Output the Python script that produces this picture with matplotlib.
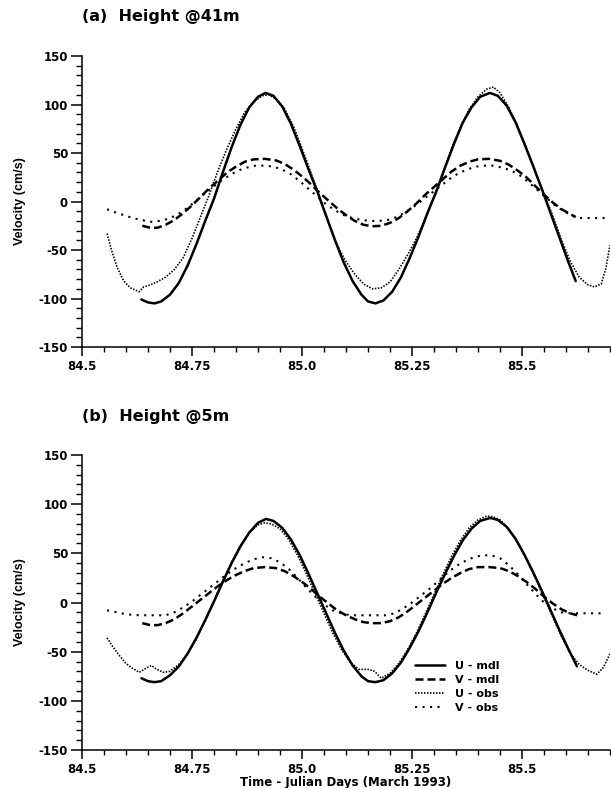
import matplotlib.pyplot as plt
from matplotlib.ticker import MultipleLocator, FixedLocator, FixedFormatter

plt.rcParams['font.family'] = 'DejaVu Sans'
plt.rcParams['font.weight'] = 'bold'

# ---- panel (a) : height 41m ----
a_umdl_t = [84.635, 84.650, 84.665, 84.680, 84.700, 84.720, 84.740, 84.760, 84.780, 84.800,
            84.820, 84.840, 84.860, 84.880, 84.900, 84.917, 84.935, 84.955, 84.975, 84.995,
            85.015, 85.035, 85.055, 85.075, 85.095, 85.115, 85.135, 85.150, 85.167, 85.185,
            85.205, 85.225, 85.245, 85.265, 85.285, 85.305, 85.325, 85.345, 85.365, 85.385,
            85.405, 85.427, 85.445, 85.465, 85.485, 85.505, 85.525, 85.545, 85.565, 85.585,
            85.605, 85.622]
a_umdl_v = [-101, -104, -105, -103, -96, -84, -66, -44, -20, 3,
            30, 56, 79, 97, 108, 112, 109, 98, 80, 57,
            33, 10, -15, -40, -63, -82, -96, -103, -105, -102,
            -93, -78, -58, -36, -12, 10, 35, 59, 81, 97,
            108, 112, 109, 99, 82, 60, 37, 13, -12, -37,
            -62, -82]

a_vmdl_t = [84.637, 84.655, 84.672, 84.690, 84.710, 84.730, 84.750, 84.770, 84.790, 84.810,
            84.830, 84.850, 84.870, 84.890, 84.915, 84.940, 84.960, 84.980, 85.000, 85.020,
            85.040, 85.060, 85.080, 85.100, 85.120, 85.140, 85.160, 85.180, 85.200, 85.220,
            85.240, 85.260, 85.280, 85.300, 85.320, 85.340, 85.360, 85.380, 85.400, 85.425,
            85.450, 85.470, 85.490, 85.510, 85.530, 85.550, 85.570, 85.590, 85.610, 85.622]
a_vmdl_v = [-25, -27, -27, -24, -19, -12, -4, 5, 14, 22,
            30, 36, 41, 43.5, 44, 42.5, 39, 33, 26, 18,
            9, 1, -7, -14, -20, -24, -25.5, -25, -22, -17,
            -10, -2, 7, 15, 23, 31, 37, 41, 43.5, 44,
            42, 38, 32, 25, 16, 7, -1, -8, -13, -16]

a_uobs_t = [84.557, 84.567, 84.580, 84.595, 84.610, 84.620, 84.630, 84.640, 84.655, 84.670,
            84.690, 84.710, 84.730, 84.750, 84.770, 84.790, 84.810, 84.830, 84.850, 84.870,
            84.890, 84.910, 84.925, 84.940, 84.960, 84.980, 85.000, 85.020, 85.040, 85.060,
            85.080, 85.100, 85.120, 85.140, 85.160, 85.180, 85.200, 85.220, 85.240, 85.260,
            85.280, 85.300, 85.320, 85.340, 85.360, 85.380, 85.400, 85.420, 85.435, 85.450,
            85.470, 85.490, 85.510, 85.530, 85.550, 85.570, 85.590, 85.610, 85.630, 85.650,
            85.665, 85.680, 85.690, 85.700]
a_uobs_v = [-33, -50, -68, -82, -89, -91, -93, -88, -86, -83,
            -78, -70, -58, -38, -15, 8, 33, 55, 75, 92,
            103, 109, 110, 106, 96, 78, 55, 30, 5, -20,
            -45, -62, -75, -85, -90, -89, -83, -70, -55, -38,
            -18, 5, 30, 55, 77, 95, 108, 116, 118, 112,
            97, 78, 55, 30, 8, -15, -40, -62, -78, -86,
            -88, -85, -70, -45]

a_vobs_t = [84.557, 84.575, 84.595, 84.615, 84.635, 84.655, 84.675, 84.695, 84.715, 84.735,
            84.755, 84.775, 84.795, 84.815, 84.835, 84.855, 84.875, 84.895, 84.915, 84.935,
            84.955, 84.975, 84.995, 85.015, 85.035, 85.055, 85.075, 85.095, 85.115, 85.135,
            85.155, 85.175, 85.195, 85.215, 85.235, 85.255, 85.275, 85.295, 85.315, 85.335,
            85.355, 85.375, 85.395, 85.415, 85.435, 85.455, 85.475, 85.495, 85.515, 85.535,
            85.555, 85.575, 85.595, 85.615, 85.635, 85.655, 85.675, 85.695]
a_vobs_v = [-8, -11, -14, -17, -19, -21, -20, -18, -14, -8,
            -1, 7, 14, 21, 27, 32, 35, 37, 37, 36,
            33, 28, 21, 13, 5, -3, -9, -14, -17, -19,
            -20, -20, -19, -16, -11, -5, 2, 9, 16, 23,
            29, 33, 36, 37, 37, 35, 32, 27, 20, 12,
            4, -4, -10, -15, -17, -17, -17, -17]

# ---- panel (b) : height 5m ----
b_umdl_t = [84.635, 84.650, 84.665, 84.680, 84.700, 84.720, 84.740, 84.760, 84.780, 84.800,
            84.820, 84.840, 84.860, 84.880, 84.900, 84.918, 84.935, 84.955, 84.975, 84.995,
            85.015, 85.035, 85.055, 85.075, 85.095, 85.115, 85.135, 85.150, 85.167, 85.185,
            85.205, 85.225, 85.245, 85.265, 85.285, 85.305, 85.325, 85.345, 85.365, 85.385,
            85.405, 85.428, 85.445, 85.465, 85.485, 85.505, 85.525, 85.545, 85.565, 85.585,
            85.605, 85.625]
b_umdl_v = [-77, -80, -81, -80, -74, -65, -52, -36, -18, 1,
            21, 40, 57, 71, 81, 85, 83, 76, 64, 48,
            29, 9, -11, -31, -49, -64, -75, -80, -81, -79,
            -72, -61, -46, -29, -10, 10, 29, 47, 63, 75,
            83, 86, 84, 77, 65, 49, 31, 12, -8, -28,
            -47, -65]

b_vmdl_t = [84.637, 84.655, 84.672, 84.690, 84.710, 84.730, 84.750, 84.770, 84.790, 84.810,
            84.830, 84.850, 84.870, 84.890, 84.915, 84.940, 84.960, 84.980, 85.000, 85.020,
            85.040, 85.060, 85.080, 85.100, 85.120, 85.140, 85.160, 85.180, 85.200, 85.220,
            85.240, 85.260, 85.280, 85.300, 85.320, 85.340, 85.360, 85.380, 85.400, 85.425,
            85.450, 85.470, 85.490, 85.510, 85.530, 85.550, 85.570, 85.590, 85.610, 85.625]
b_vmdl_v = [-21, -23, -23, -21, -17, -11, -4, 3, 10, 17,
            23, 28, 32, 35, 36, 35, 32, 27, 21, 14,
            6, -1, -8, -13, -17, -20, -21, -21, -19, -15,
            -9, -2, 5, 12, 19, 25, 30, 34, 36, 36,
            35, 32, 27, 21, 14, 6, -1, -7, -11, -13]

b_uobs_t = [84.557, 84.570, 84.585, 84.600, 84.615, 84.630, 84.645, 84.658, 84.670, 84.685,
            84.700, 84.720, 84.740, 84.760, 84.780, 84.800, 84.820, 84.840, 84.860, 84.880,
            84.900, 84.915, 84.930, 84.950, 84.970, 84.990, 85.010, 85.030, 85.050, 85.070,
            85.090, 85.110, 85.130, 85.150, 85.165, 85.180, 85.200, 85.220, 85.240, 85.260,
            85.280, 85.300, 85.320, 85.340, 85.360, 85.380, 85.400, 85.420, 85.435, 85.450,
            85.470, 85.490, 85.510, 85.530, 85.550, 85.570, 85.590, 85.610, 85.630, 85.650,
            85.670, 85.685, 85.700]
b_uobs_v = [-36, -45, -54, -62, -67, -71, -67, -64, -68, -71,
            -70, -63, -52, -37, -18, 2, 22, 41, 58, 71,
            79, 81, 80, 75, 64, 48, 29, 9, -11, -31,
            -48, -61, -68, -68, -70, -77, -72, -62, -48, -31,
            -12, 8, 28, 47, 63, 76, 84, 88, 87, 84,
            75, 61, 44, 25, 5, -15, -35, -52, -63, -69,
            -73, -66, -52]

b_vobs_t = [84.557, 84.580, 84.600, 84.630, 84.660, 84.690, 84.710, 84.730, 84.750, 84.770,
            84.790, 84.810, 84.830, 84.850, 84.870, 84.890, 84.910, 84.930, 84.950, 84.970,
            84.990, 85.010, 85.030, 85.050, 85.070, 85.090, 85.110, 85.130, 85.150, 85.170,
            85.190, 85.210, 85.230, 85.250, 85.270, 85.290, 85.310, 85.330, 85.350, 85.370,
            85.390, 85.410, 85.430, 85.450, 85.470, 85.490, 85.510, 85.530, 85.550, 85.570,
            85.590, 85.610, 85.630, 85.650, 85.670, 85.690]
b_vobs_v = [-8, -10, -12, -13, -13, -13, -10, -5, 1, 8,
            15, 22, 29, 35, 40, 44, 46, 45, 41, 34,
            25, 15, 6, -2, -8, -11, -13, -13, -13, -13,
            -13, -11, -6, 0, 7, 14, 22, 30, 37, 42,
            46, 48, 48, 45, 38, 29, 19, 9, 0, -6,
            -10, -11, -11, -11, -11, -11]

titles = ['(a)  Height @41m', '(b)  Height @5m']
xtick_pos = [84.5, 84.75, 85.0, 85.25, 85.5]
xtick_lab = ['84.5', '84.75', '85.0', '85.25', '85.5']
ytick_pos = [150, 100, 50, 0, -50, -100, -150]
ytick_lab = ['150', '100', '50', '0', '-50', '-100', '-150']
legend_lab = ['U - mdl', 'V - mdl', 'U - obs', 'V - obs']

fig = plt.figure(figsize=(6.11, 7.88), dpi=100)
ax1 = fig.add_axes([0.1342, 0.5596, 0.8642, 0.3693])
ax2 = fig.add_axes([0.1342, 0.0482, 0.8642, 0.3744])

panels = [
    (ax1, a_umdl_t, a_umdl_v, a_vmdl_t, a_vmdl_v, a_uobs_t, a_uobs_v, a_vobs_t, a_vobs_v),
    (ax2, b_umdl_t, b_umdl_v, b_vmdl_t, b_vmdl_v, b_uobs_t, b_uobs_v, b_vobs_t, b_vobs_v),
]

lines = []
for ax, ut, uv, vt, vv, uot, uov, vot, vov in panels:
    l1, = ax.plot(ut, uv, color='black', lw=1.8, solid_capstyle='round')
    l2, = ax.plot(vt, vv, color='black', lw=1.8, linestyle=(0, (3.2, 1.6)))
    l3, = ax.plot(uot, uov, color='black', lw=1.2, linestyle=(0, (0.9, 0.9)))
    l4, = ax.plot(vot, vov, color='black', lw=1.5, linestyle=(0, (1, 2.6)))
    lines = [l1, l2, l3, l4]

    ax.set_xlim(84.5, 85.7)
    ax.set_ylim(-150, 150)
    ax.spines['top'].set_visible(False)
    ax.spines['right'].set_visible(False)
    ax.spines['left'].set_linewidth(1.1)
    ax.spines['bottom'].set_linewidth(1.1)
    ax.xaxis.set_major_locator(FixedLocator(xtick_pos))
    ax.xaxis.set_major_formatter(FixedFormatter(xtick_lab))
    ax.xaxis.set_minor_locator(MultipleLocator(0.05))
    ax.yaxis.set_major_locator(FixedLocator(ytick_pos))
    ax.yaxis.set_major_formatter(FixedFormatter(ytick_lab))
    ax.yaxis.set_minor_locator(MultipleLocator(10))
    ax.tick_params(axis='y', which='major', direction='out', length=8, width=1.1, pad=2, labelsize=8.5)
    ax.tick_params(axis='y', which='minor', direction='out', length=4.5, width=1.0)
    ax.tick_params(axis='x', which='major', direction='out', length=6.5, width=1.1, pad=3, labelsize=8.5)
    ax.tick_params(axis='x', which='minor', direction='out', length=3.5, width=1.0)
    for lab in ax.get_xticklabels() + ax.get_yticklabels():
        lab.set_fontweight('bold')
    ax.set_ylabel('Velocity (cm/s)', fontsize=9, fontweight='bold',
                  family='Liberation Sans', labelpad=9)

ax2.set_xlabel('Time - Julian Days (March 1993)', fontsize=8.5, fontweight='bold', labelpad=0)

fig.text(82 / 611, 1 - 17 / 788, titles[0], fontsize=11.5, fontweight='bold', ha='left', va='center')
fig.text(82 / 611, 1 - 417 / 788, titles[1], fontsize=11.5, fontweight='bold', ha='left', va='center')

fig.legend(lines, legend_lab, loc='upper left', bbox_to_anchor=(415 / 611, 1 - 661 / 788),
           frameon=False, handlelength=2.7, handletextpad=0.9,
           labelspacing=0.35, borderpad=0, borderaxespad=0,
           prop={'weight': 'bold', 'size': 8})

fig.savefig('out.png', dpi=100)
